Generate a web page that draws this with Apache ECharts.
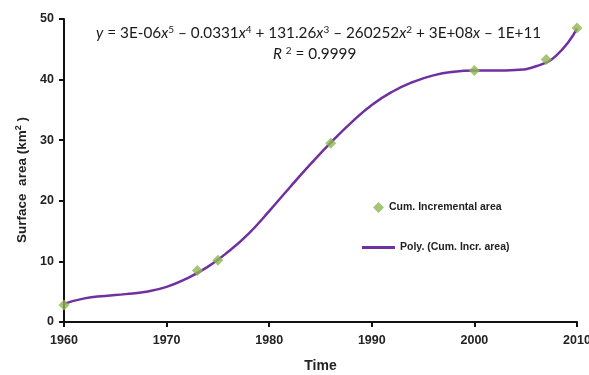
<!DOCTYPE html>
<html><head><meta charset="utf-8">
<script src="https://cdn.jsdelivr.net/npm/echarts@6/dist/echarts.min.js"></script>
<style>html,body{margin:0;padding:0;background:#fff}#c{width:589px;height:375px}</style>
</head><body><div id="c"></div>
<script>
// Observed points
const obsYears = [1960, 1973, 1975, 1986, 2000, 2007, 2010];
const obsArea  = [2.8, 8.5, 10.2, 29.5, 41.5, 43.3, 48.5];
// Fitted polynomial curve
const fitYears = [1960,1962,1964,1966,1968,1970,1972,1974,1976,1978,1980,1982,1984,1986,1988,1990,1992,1994,1996,1998,2000,2002,2004,2006,2008,2010];
const fitArea  = [3.0,3.9,4.3,4.6,5.0,5.8,7.2,9.1,11.6,14.6,18.3,22.2,26.0,29.6,32.9,35.8,38.0,39.6,40.7,41.3,41.5,41.5,41.6,42.2,44.0,48.4];
const xTicks = [1960, 1970, 1980, 1990, 2000, 2010];
const yTicks = [0, 10, 20, 30, 40, 50];
const seriesNames = ['Cum. Incremental area', 'Poly. (Cum. Incr. area)'];

const chart = echarts.init(document.getElementById('c'), null, {renderer:'canvas'});
const bold = {fontFamily:'Liberation Sans, Arial, sans-serif', fontWeight:'bold', color:'#222'};
const eqRich = {
  i:{fontFamily:'Lato', fontStyle:'italic', fontSize:15.3, fill:'#1a1a1a'},
  s:{fontFamily:'Lato', fontSize:10, fill:'#1a1a1a', verticalAlign:'top', padding:[0,0,7,0]}
};
chart.setOption({
  animation:false,
  backgroundColor:'#fff',
  grid:{left:64, right:12, top:19, bottom:53, containLabel:false, outerBoundsMode:'none'},
  xAxis:{type:'value', min:xTicks[0], max:xTicks[xTicks.length-1], interval:10,
    name:'Time', nameLocation:'middle', nameGap:37,
    nameTextStyle:Object.assign({fontSize:14}, bold),
    axisLine:{lineStyle:{color:'#111', width:2}},
    axisTick:{show:true, length:5, lineStyle:{color:'#111', width:2}},
    axisLabel:Object.assign({fontSize:12.5, margin:12, formatter:v=>String(v)}, bold),
    splitLine:{show:false}},
  yAxis:{type:'value', min:yTicks[0], max:yTicks[yTicks.length-1], interval:10,
    axisLine:{show:true, lineStyle:{color:'#111', width:2}},
    axisTick:{show:true, length:5, lineStyle:{color:'#111', width:2}},
    axisLabel:Object.assign({fontSize:12.5, margin:10}, bold),
    splitLine:{show:false}},
  legend:[
    {data:[{name:seriesNames[0], icon:'diamond'}], left:368, top:197, itemWidth:11, itemHeight:11, itemGap:6,
     textStyle:Object.assign({fontSize:10.5}, bold)},
    {data:[{name:seriesNames[1], icon:'rect'}], left:357, top:237, itemWidth:33, itemHeight:3, itemGap:5,
     textStyle:Object.assign({fontSize:10.5}, bold)}
  ],
  series:[
    {name:seriesNames[1], type:'line', smooth:true, showSymbol:false, symbol:'none',
     data:fitYears.map((y,i)=>[y, fitArea[i]]),
     lineStyle:{color:'#7030A0', width:2.5}, itemStyle:{color:'#7030A0'}, z:2},
    {name:seriesNames[0], type:'scatter', symbol:'diamond', symbolSize:11,
     data:obsYears.map((y,i)=>[y, obsArea[i]]),
     itemStyle:{color:'#8DB850'}, z:3}
  ],
  graphic:[
    {type:'text', left:96, top:25, style:{
      text:'{i|y} = 3E-06{i|x}{s|5} – 0.0331{i|x}{s|4} + 131.26{i|x}{s|3} – 260252{i|x}{s|2} + 3E+08{i|x} – 1E+11',
      rich:eqRich, fontFamily:'Lato', fontSize:15.3, fill:'#1a1a1a'}},
    {type:'text', left:273, top:46, style:{
      text:'{i|R} {s|2} = 0.9999',
      rich:eqRich, fontFamily:'Lato', fontSize:15.3, fill:'#1a1a1a'}},
    {type:'text', x:22, y:180, rotation:Math.PI/2, style:{
      text:'{n|Surface  area (km}{s|2}{n| )}', align:'center', verticalAlign:'middle',
      rich:{n:{fontFamily:'Liberation Sans', fontWeight:'bold', fontSize:13.5, fill:'#222'},
            s:{fontFamily:'Liberation Sans', fontWeight:'bold', fontSize:9, fill:'#222', verticalAlign:'top', padding:[0,0,6,0]}}}}
  ]
});
</script></body></html>
